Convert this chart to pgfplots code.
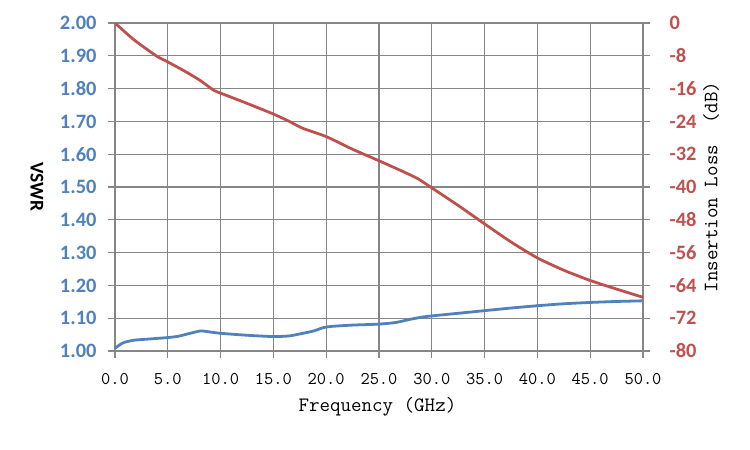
\documentclass[border=0pt]{standalone}
\usepackage{fontspec}
\setmainfont{Carlito}
\usepackage{pgfplots}
\pgfplotsset{compat=1.18}
\definecolor{vblue}{HTML}{4F81BD}
\definecolor{ired}{HTML}{C0504D}
\definecolor{gridgray}{HTML}{868686}
\begin{document}
\begin{tikzpicture}
\useasboundingbox (-115bp,-99bp) rectangle (635bp,351bp);
\begin{axis}[
  at={(0,0)}, anchor=south west,
  scale only axis, width=528bp, height=328bp,
  xmin=0, xmax=50, ymin=1, ymax=2,
  xtick={0,5,10,15,20,25,30,35,40,45,50},
  ytick={1,1.1,1.2,1.3,1.4,1.5,1.6,1.7,1.8,1.9,2},
  xtick pos=bottom, ytick pos=left,
  tick align=outside, major tick length=7bp,
  grid=major,
  grid style={gridgray, line width=1.1pt},
  axis line style={gridgray, line width=1.1pt},
  tick style={gridgray, line width=1.1pt},
  /pgf/number format/assume math mode=true,
  xticklabel={\pgfmathprintnumber[fixed,fixed zerofill,precision=1]{\tick}},
  yticklabel={\pgfmathprintnumber[fixed,fixed zerofill,precision=2]{\tick}},
  xticklabel style={font=\ttfamily\fontsize{18}{20}\selectfont, text=black, yshift=-12bp},
  yticklabel style={font=\bfseries\fontsize{20.5}{22}\selectfont, text=vblue, xshift=-8bp},
  ylabel={VSWR},
  ylabel style={font=\bfseries\fontsize{19.5}{22}\selectfont, text=black, rotate=180,
    at={(axis description cs:-0.148,0.5)}, anchor=center},
  xlabel={Frequency (GHz)},
  xlabel style={font=\ttfamily\fontsize{20.5}{24}\selectfont, text=black,
    at={(axis description cs:0.497,-0.171)}, anchor=center},
]
\addplot[vblue, line width=2.8pt, smooth, tension=0.4] coordinates {
(0,1.008) (0.4,1.018) (0.85,1.026) (1.8,1.033) (3,1.036) (5,1.041) (6,1.045)
(7,1.053) (8.1,1.061) (9,1.058) (10,1.054) (12.5,1.048) (15,1.044) (16.5,1.046)
(17.5,1.052) (18.8,1.061) (19.7,1.071) (20.5,1.075) (22.5,1.079) (25,1.082)
(26.6,1.087) (28,1.097) (29.2,1.104) (30,1.107) (32.5,1.115) (35,1.123)
(37.5,1.131) (40,1.138) (42.5,1.144) (45,1.148) (47.5,1.151) (50,1.153)
};
\end{axis}
\begin{axis}[
  at={(0,0)}, anchor=south west,
  scale only axis, width=528bp, height=328bp,
  xmin=0, xmax=50, ymin=-80, ymax=0,
  axis y line*=right, axis x line=none,
  ytick={-80,-72,-64,-56,-48,-40,-32,-24,-16,-8,0},
  yticklabels={-80,-72,-64,-56,-48,-40,-32,-24,-16,-8,0},
  tick align=outside, major tick length=7bp,
  axis line style={gridgray, line width=1.1pt},
  tick style={gridgray, line width=1.1pt},
  yticklabel style={font=\bfseries\fontsize{20.5}{22}\selectfont, text=ired, xshift=16bp},
  ylabel={Insertion Loss\ \ (dB)},
  ylabel style={font=\ttfamily\fontsize{20.5}{24}\selectfont, text=black,
    at={(axis description cs:1.129,0.5)}, anchor=center},
]
\addplot[ired, line width=2.8pt, smooth, tension=0.4] coordinates {
(0,0) (1.8,-4.1) (3.9,-8.0) (5,-9.5) (6.5,-11.6) (8,-13.9) (9.4,-16.5) (10,-17.1)
(12.5,-19.6) (15,-22.2) (16.5,-24.0) (17.8,-25.7) (20,-27.7) (22.5,-30.8)
(25,-33.6) (27.5,-36.5) (28.7,-38.0) (30,-40.2) (32.5,-44.5) (35,-49.0)
(37.5,-53.4) (40,-57.3) (42.5,-60.3) (45,-62.8) (47.5,-64.9) (50,-66.9)
};
\end{axis}
\end{tikzpicture}
\end{document}
